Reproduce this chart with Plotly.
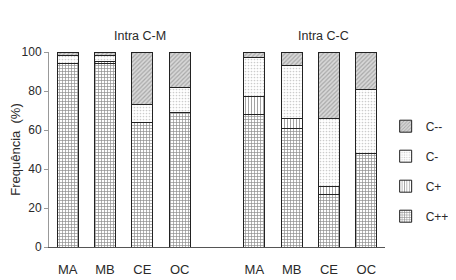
import plotly.graph_objects as go

positions = [0, 1, 2, 3, 5, 6, 7, 8]
labels = ["MA", "MB", "CE", "OC", "MA", "MB", "CE", "OC"]
c_pp = [94, 94, 64, 69, 68, 61, 27, 48]
c_p = [0, 1, 0, 0, 9, 5, 4, 0]
c_m = [4, 3, 9, 13, 20, 27, 35, 33]
c_mm = [2, 2, 27, 18, 3, 7, 34, 19]
group_titles = ["Intra C-M", "Intra C-C"]
series_names = ["C++", "C+", "C-", "C--"]

FAM = "Liberation Sans, Arial, sans-serif"
TXT = "#2a2a2a"

patterns = [
    dict(shape="+", fgcolor="#1a1a1a", bgcolor="white", size=3, solidity=0.4),
    dict(shape="|", fgcolor="#333", bgcolor="white", size=3, solidity=0.3),
    dict(shape=".", fgcolor="#999", bgcolor="white", size=3, solidity=0.25),
    dict(shape="/", fgcolor="#777", bgcolor="#d8d8d8", size=3, solidity=0.4),
]
ranks = [4, 3, 2, 1]

fig = go.Figure()
for name, vals, pat, rk in zip(series_names, [c_pp, c_p, c_m, c_mm], patterns, ranks):
    fig.add_trace(go.Bar(
        x=positions, y=vals, name=name, width=0.56,
        marker=dict(color="white", pattern=pat, line=dict(color="#222", width=1)),
        legendgroup=name, legendrank=rk,
    ))

fig.update_layout(
    barmode="stack",
    width=448, height=272,
    margin=dict(l=41, r=71, t=44, b=33, autoexpand=False),
    paper_bgcolor="white", plot_bgcolor="white",
    font=dict(family=FAM, size=12, color=TXT),
    showlegend=True,
    legend=dict(xref="container", yref="container", x=0.843, xanchor="left",
                y=0.40, yanchor="middle",
                traceorder="grouped", tracegroupgap=11,
                font=dict(family=FAM, size=12, color=TXT),
                itemwidth=30, bgcolor="rgba(0,0,0,0)"),
    xaxis=dict(range=[-0.5, 8.5], tickmode="array", tickvals=positions, ticktext=labels,
               showline=True, linecolor="#555", linewidth=1, ticks="outside", ticklen=10,
               tickcolor="rgba(0,0,0,0)", showgrid=False,
               zeroline=False, tickfont=dict(size=13)),
    yaxis=dict(range=[0, 100], tickvals=[0, 20, 40, 60, 80, 100], showline=True,
               linecolor="#999", linewidth=1, ticks="outside", ticklen=4, tickcolor="#999",
               showgrid=False, zeroline=False, tickfont=dict(size=12),
               title=dict(text="Frequência  (%)", font=dict(size=13), standoff=6)),
    annotations=[
        dict(x=1.94, y=1.082, xref="x", yref="paper", yanchor="middle", text=group_titles[0],
             showarrow=False, font=dict(size=12.5)),
        dict(x=6.85, y=1.082, xref="x", yref="paper", yanchor="middle", text=group_titles[1],
             showarrow=False, font=dict(size=12.5)),
    ],
)

fig.write_html("out.html")
